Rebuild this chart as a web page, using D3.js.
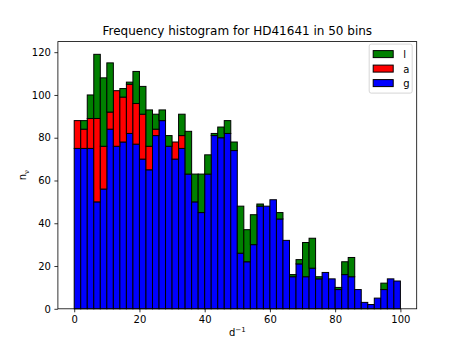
<!DOCTYPE html>
<html>
<head>
<meta charset="utf-8">
<script src="https://cdn.jsdelivr.net/npm/d3@7"></script>
<style>
  body { margin: 0; background: #fff; }
  text { font-family: "DejaVu Sans", sans-serif; }
</style>
</head>
<body>
<div id="vis"></div>
<script>
// ---------- DATA (counts per 2 d^-1 bin) ----------
const binEdges = d3.range(0, 101, 2);
const seriesKeys = ["g", "a", "l"];
const gCounts = [75, 75, 75, 50, 56, 84, 76, 78, 82, 77,
                 70, 65, 81, 88, 76, 70, 75, 63, 50, 45,
                 63, 81, 80, 82, 74, 26, 22, 30, 48, 48,
                 51, 42, 32, 15, 21, 15, 19, 14, 17, 14,
                 9, 16, 15, 9, 3, 2, 5, 9, 14, 13];
const aCounts = [13, 9, 14, 39, 20, 8, 26, 21, 23, 19,
                 21, 11, 3, 0, 0, 8, 6, 0, 0, 0,
                 0, 0, 0, 0, 0, 0, 0, 0, 0, 0,
                 0, 0, 0, 0, 0, 0, 0, 0, 0, 0,
                 0, 0, 0, 0, 0, 0, 0, 0, 0, 0];
const lCounts = [0, 4, 11, 30, 32, 23, 0, 4, 1, 15,
                 13, 17, 7, 5, 5, 0, 10, 20, 13, 18,
                 9, 1, 5, 6, 4, 22, 15, 14, 1, 0,
                 0, 3, 0, 1, 2, 16, 14, 1, 0, 0,
                 1, 6, 9, 0, 0, 0, 0, 3, 0, 0];
const xTicks = [0, 20, 40, 60, 80, 100];
const yTicks = [0, 20, 40, 60, 80, 100, 120];
const legendItems = [
  { key: "l", color: "green" },
  { key: "a", color: "red" },
  { key: "g", color: "blue" }
];
const COLORS = { g: "blue", a: "red", l: "green" };

// ---------- FRAME ----------
const FRAME_WIDTH = 463;
const FRAME_HEIGHT = 347;
const MARGINS = { left: 57.9, right: 46.3, top: 41.6, bottom: 38.2 };
const VIS_WIDTH = FRAME_WIDTH - MARGINS.left - MARGINS.right;
const VIS_HEIGHT = FRAME_HEIGHT - MARGINS.top - MARGINS.bottom;

const rows = gCounts.map((g, i) => ({
  x0: binEdges[i], x1: binEdges[i + 1], g: g, a: aCounts[i], l: lCounts[i]
}));
const stacked = d3.stack().keys(seriesKeys)(rows);
const maxTotal = d3.max(rows, d => d.g + d.a + d.l);

const xScale = d3.scaleLinear().domain([-5, 105]).range([0, VIS_WIDTH]);
const yScale = d3.scaleLinear().domain([0, maxTotal * 1.05]).range([VIS_HEIGHT, 0]);

const svg = d3.select("#vis").append("svg")
  .attr("width", FRAME_WIDTH)
  .attr("height", FRAME_HEIGHT);

const plot = svg.append("g")
  .attr("transform", `translate(${MARGINS.left},${MARGINS.top})`);

// bars
plot.append("g").selectAll("g")
  .data(stacked)
  .enter().append("g")
    .attr("fill", s => COLORS[s.key])
  .selectAll("rect")
  .data(s => s.filter(d => d[1] > d[0]))
  .enter().append("rect")
    .attr("x", d => xScale(d.data.x0))
    .attr("width", d => xScale(d.data.x1) - xScale(d.data.x0))
    .attr("y", d => yScale(d[1]))
    .attr("height", d => yScale(d[0]) - yScale(d[1]))
    .attr("stroke", "black")
    .attr("stroke-width", 1);

// axes
const xAxis = plot.append("g")
  .attr("transform", `translate(0,${VIS_HEIGHT})`)
  .call(d3.axisBottom(xScale).tickValues(xTicks).tickSize(3.5).tickPadding(3.5).tickSizeOuter(0));
const yAxis = plot.append("g")
  .call(d3.axisLeft(yScale).tickValues(yTicks).tickSize(3.5).tickPadding(3.5).tickSizeOuter(0));
[xAxis, yAxis].forEach(ax => {
  ax.select(".domain").remove();
  ax.selectAll("text").attr("font-size", 10).attr("fill", "black")
    .attr("font-family", "DejaVu Sans, sans-serif");
  ax.selectAll("line").attr("stroke", "black").attr("stroke-width", 0.8);
});

// spines
plot.append("rect")
  .attr("x", 0).attr("y", 0)
  .attr("width", VIS_WIDTH).attr("height", VIS_HEIGHT)
  .attr("fill", "none").attr("stroke", "black").attr("stroke-width", 0.8);

// title + labels
svg.append("text")
  .attr("x", MARGINS.left + VIS_WIDTH / 2).attr("y", 35)
  .attr("text-anchor", "middle").attr("font-size", 12)
  .text("Frequency histogram for HD41641 in 50 bins");

const xl = svg.append("text")
  .attr("x", MARGINS.left + VIS_WIDTH / 2).attr("y", 336)
  .attr("text-anchor", "middle").attr("font-size", 10);
xl.append("tspan").text("d");
xl.append("tspan").attr("dy", -4).attr("font-size", 7).text("\u22121");

const yl = svg.append("text")
  .attr("transform", `translate(26,${MARGINS.top + VIS_HEIGHT / 2}) rotate(-90)`)
  .attr("text-anchor", "middle").attr("font-size", 10);
yl.append("tspan").text("n");
yl.append("tspan").attr("dy", 2.5).attr("font-size", 7).text("\u03bd");

// legend
const legend = plot.append("g")
  .attr("transform", `translate(${VIS_WIDTH - 47.5},2.5)`);
legend.append("rect")
  .attr("width", 43).attr("height", 49)
  .attr("rx", 2)
  .attr("fill", "white").attr("fill-opacity", 0.8)
  .attr("stroke", "#cccccc").attr("stroke-width", 0.8);
const li = legend.selectAll("g.item")
  .data(legendItems)
  .enter().append("g")
    .attr("class", "item")
    .attr("transform", (d, i) => `translate(4,${6.5 + i * 14.5})`);
li.append("rect")
  .attr("width", 20).attr("height", 7)
  .attr("fill", d => d.color)
  .attr("stroke", "black").attr("stroke-width", 1);
li.append("text")
  .attr("x", 30).attr("y", 7.5)
  .attr("font-size", 10)
  .text(d => d.key);
</script>
</body>
</html>
